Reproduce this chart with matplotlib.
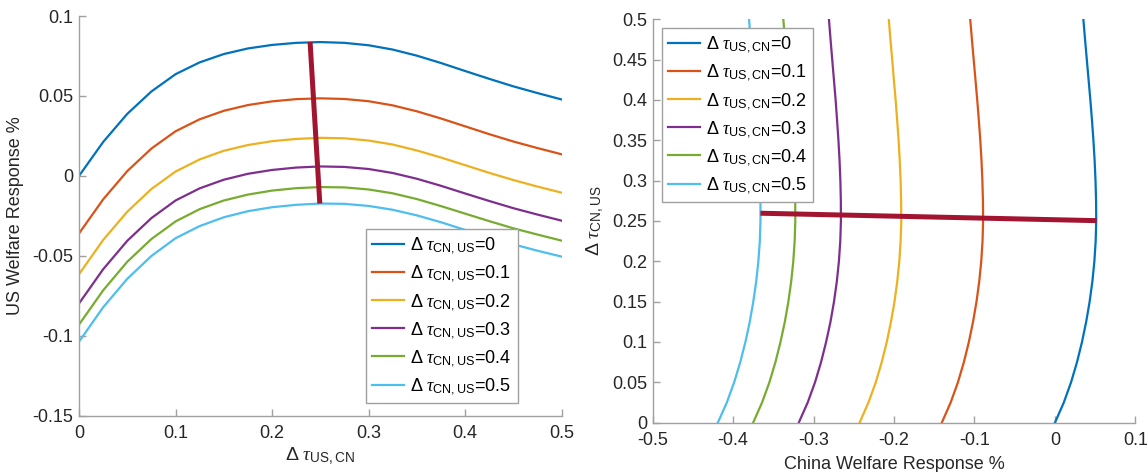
import matplotlib
matplotlib.use("Agg")
import matplotlib.pyplot as plt
from matplotlib.ticker import FixedLocator, FixedFormatter

plt.rcParams['font.family'] = ['Liberation Sans', 'DejaVu Sans']
plt.rcParams['mathtext.fontset'] = 'custom'
plt.rcParams['mathtext.rm'] = 'Liberation Sans'
plt.rcParams['mathtext.it'] = 'Liberation Serif:italic'
plt.rcParams['mathtext.bf'] = 'Liberation Sans:bold'
plt.rcParams['axes.unicode_minus'] = False

# ---------------- data ----------------
# left panel: x = Delta tau_US,CN, one curve per Delta tau_CN,US
tau_grid = [0.0, 0.025, 0.05, 0.075, 0.1, 0.125, 0.15, 0.175, 0.2, 0.225, 0.25,
            0.275, 0.3, 0.325, 0.35, 0.375, 0.4, 0.425, 0.45, 0.475, 0.5]
levels = ['0', '0.1', '0.2', '0.3', '0.4', '0.5']

us_w_0 = [0.0, 0.0212, 0.0388, 0.0528, 0.0636, 0.0710, 0.0762, 0.0797, 0.0819, 0.0832, 0.0837,
          0.0832, 0.0817, 0.0790, 0.0752, 0.0706, 0.0656, 0.0607, 0.0560, 0.0518, 0.0478]
us_w_1 = [-0.0360, -0.0147, 0.0030, 0.0171, 0.0279, 0.0354, 0.0407, 0.0443, 0.0466, 0.0480, 0.0485,
          0.0481, 0.0467, 0.0441, 0.0404, 0.0359, 0.0310, 0.0261, 0.0215, 0.0174, 0.0135]
us_w_2 = [-0.0615, -0.0401, -0.0224, -0.0082, 0.0027, 0.0103, 0.0157, 0.0193, 0.0217, 0.0231, 0.0238,
          0.0235, 0.0221, 0.0196, 0.0159, 0.0115, 0.0067, 0.0019, -0.0026, -0.0067, -0.0105]
us_w_3 = [-0.0798, -0.0584, -0.0406, -0.0264, -0.0154, -0.0078, -0.0024, 0.0013, 0.0037, 0.0052, 0.0059,
          0.0056, 0.0043, 0.0018, -0.0018, -0.0062, -0.0110, -0.0157, -0.0202, -0.0242, -0.0280]
us_w_4 = [-0.0930, -0.0716, -0.0537, -0.0395, -0.0285, -0.0208, -0.0154, -0.0117, -0.0092, -0.0077, -0.0070,
          -0.0072, -0.0085, -0.0109, -0.0145, -0.0189, -0.0236, -0.0283, -0.0328, -0.0367, -0.0405]
us_w_5 = [-0.1037, -0.0822, -0.0644, -0.0501, -0.0390, -0.0314, -0.0259, -0.0221, -0.0196, -0.0181, -0.0173,
          -0.0175, -0.0188, -0.0212, -0.0247, -0.0290, -0.0338, -0.0384, -0.0428, -0.0468, -0.0505]
us_opt_x = [0.2394, 0.2495]
us_opt_y = [0.0838, -0.0173]

# right panel: y = Delta tau_CN,US, one curve per Delta tau_US,CN
cn_w_0 = [0.0, 0.0110, 0.0200, 0.0274, 0.0336, 0.0388, 0.0431, 0.0465, 0.0490, 0.0506, 0.0513,
          0.0511, 0.0504, 0.0493, 0.0478, 0.0460, 0.0440, 0.0418, 0.0396, 0.0374, 0.0353]
cn_w_1 = [-0.1406, -0.1296, -0.1206, -0.1132, -0.1070, -0.1018, -0.0975, -0.0941, -0.0916, -0.0900, -0.0893,
          -0.0895, -0.0902, -0.0913, -0.0928, -0.0946, -0.0966, -0.0988, -0.1010, -0.1032, -0.1053]
cn_w_2 = [-0.2428, -0.2318, -0.2227, -0.2153, -0.2090, -0.2038, -0.1994, -0.1960, -0.1934, -0.1918, -0.1910,
          -0.1912, -0.1918, -0.1929, -0.1943, -0.1961, -0.1980, -0.2002, -0.2023, -0.2045, -0.2065]
cn_w_3 = [-0.3184, -0.3073, -0.2982, -0.2907, -0.2844, -0.2790, -0.2746, -0.2711, -0.2685, -0.2668, -0.2660,
          -0.2661, -0.2667, -0.2677, -0.2691, -0.2708, -0.2726, -0.2747, -0.2768, -0.2789, -0.2809]
cn_w_4 = [-0.3751, -0.3640, -0.3549, -0.3474, -0.3411, -0.3357, -0.3313, -0.3278, -0.3252, -0.3235, -0.3227,
          -0.3228, -0.3234, -0.3244, -0.3258, -0.3275, -0.3293, -0.3314, -0.3335, -0.3356, -0.3376]
cn_w_5 = [-0.4190, -0.4078, -0.3987, -0.3911, -0.3847, -0.3793, -0.3749, -0.3713, -0.3686, -0.3668, -0.3660,
          -0.3660, -0.3665, -0.3674, -0.3688, -0.3704, -0.3722, -0.3742, -0.3763, -0.3783, -0.3802]
cn_opt_x = [-0.366, 0.0517]
cn_opt_y = [0.2596, 0.2504]

left_xticks = [0, 0.1, 0.2, 0.3, 0.4, 0.5]
left_xticklabels = ['0', '0.1', '0.2', '0.3', '0.4', '0.5']
left_yticks = [-0.15, -0.1, -0.05, 0, 0.05, 0.1]
left_yticklabels = ['-0.15', '-0.1', '-0.05', '0', '0.05', '0.1']
right_xticks = [-0.5, -0.4, -0.3, -0.2, -0.1, 0, 0.1]
right_xticklabels = ['-0.5', '-0.4', '-0.3', '-0.2', '-0.1', '0', '0.1']
right_yticks = [0, 0.05, 0.1, 0.15, 0.2, 0.25, 0.3, 0.35, 0.4, 0.45, 0.5]
right_yticklabels = ['0', '0.05', '0.1', '0.15', '0.2', '0.25', '0.3', '0.35', '0.4', '0.45', '0.5']

colors = ['#0072BD', '#D95319', '#EDB120', '#7E2F8E', '#77AC30', '#4DBEEE']
opt_color = '#A2142F'

# ---------------- figure ----------------
fig = plt.figure(figsize=(11.47, 4.72), dpi=100)
axL = fig.add_axes([0.0689, 0.1193, 0.4207, 0.8468])
axR = fig.add_axes([0.5690, 0.1045, 0.4209, 0.8547])

FS = 13
spine_col = '#a0a0a0'
text_col = '#262626'


def style(ax, xt, xtl, yt, ytl):
    for s in ['top', 'right']:
        ax.spines[s].set_visible(False)
    for s in ['left', 'bottom']:
        ax.spines[s].set_color(spine_col)
        ax.spines[s].set_linewidth(1.0)
    ax.xaxis.set_major_locator(FixedLocator(xt))
    ax.xaxis.set_major_formatter(FixedFormatter(xtl))
    ax.yaxis.set_major_locator(FixedLocator(yt))
    ax.yaxis.set_major_formatter(FixedFormatter(ytl))
    ax.tick_params(direction='in', length=5, width=1.0, color=spine_col,
                   labelsize=FS, labelcolor=text_col)
    ax.tick_params(axis='x', pad=6.5)
    ax.tick_params(axis='y', pad=4)


def add_legend(ax, anchor):
    leg = ax.legend(loc='upper left', bbox_to_anchor=anchor, borderaxespad=0,
                    fontsize=FS, frameon=True, fancybox=False, framealpha=1,
                    edgecolor=spine_col, handlelength=1.75, handletextpad=0.35,
                    labelspacing=0.42, borderpad=0.35)
    leg.get_frame().set_linewidth(1.0)
    return leg


us_series = [us_w_0, us_w_1, us_w_2, us_w_3, us_w_4, us_w_5]
for ys, c, lv in zip(us_series, colors, levels):
    axL.plot(tau_grid, ys, color=c, lw=1.6, solid_joinstyle='round',
             label=r'$\Delta\ \tau_{\mathrm{CN,US}}$=' + lv)
axL.plot(us_opt_x, us_opt_y, color=opt_color, lw=3.6, solid_capstyle='butt')
axL.set_xlim(0, 0.5)
axL.set_ylim(-0.15, 0.1)
style(axL, left_xticks, left_xticklabels, left_yticks, left_yticklabels)
axL.set_ylabel('US Welfare Response %', fontsize=FS, color=text_col, labelpad=6)
axL.set_xlabel(r'$\Delta\ \tau_{\mathrm{US,CN}}$', fontsize=FS + 1, color=text_col, labelpad=3)
add_legend(axL, (0.5948, 0.4663))

cn_series = [cn_w_0, cn_w_1, cn_w_2, cn_w_3, cn_w_4, cn_w_5]
for xs, c, lv in zip(cn_series, colors, levels):
    axR.plot(xs, tau_grid, color=c, lw=1.6, solid_joinstyle='round',
             label=r'$\Delta\ \tau_{\mathrm{US,CN}}$=' + lv)
axR.plot(cn_opt_x, cn_opt_y, color=opt_color, lw=3.6, solid_capstyle='butt')
axR.set_xlim(-0.5, 0.1)
axR.set_ylim(0, 0.5)
style(axR, right_xticks, right_xticklabels, right_yticks, right_yticklabels)
axR.set_xlabel('China Welfare Response %', fontsize=FS, color=text_col, labelpad=5)
axR.set_ylabel(r'$\Delta\ \tau_{\mathrm{CN,US}}$', fontsize=FS + 1, color=text_col, labelpad=4)
add_legend(axR, (0.0186, 0.9777))

fig.savefig('out.png', dpi=100)
